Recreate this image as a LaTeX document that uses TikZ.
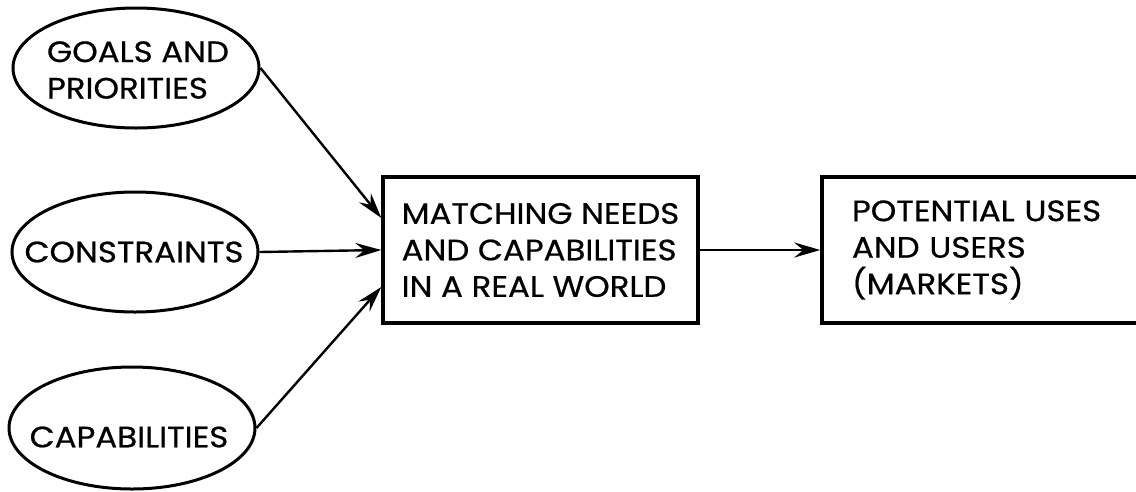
\documentclass[tikz,border=0pt]{standalone}
\usepackage{fontspec}
\setmainfont{Poppins}[FakeStretch=1.1, FakeBold=0.6]
\usepackage{tikz}
\usetikzlibrary{shapes.geometric,arrows.meta}

\tikzset{
  oval/.style={draw, ellipse, line width=3pt, minimum width=246pt, minimum height=120pt, inner sep=0pt},
  label/.style={draw=none, align=left, inner sep=0pt},
  block/.style={draw, rectangle, line width=3.4pt, minimum width=315pt, minimum height=146pt, align=left},
  arr/.style={line width=2.4pt, -{Stealth[length=26pt, width=15pt, inset=9pt]}}
}

\begin{document}
\begin{tikzpicture}[x=1pt, y=-1pt, font=\fontsize{29.5}{36.5}\selectfont]
             \useasboundingbox (0,0) rectangle (1136,491);

             \node[oval] (goals) at (136, 68) {};
             \node[label] (goalstext) at (138, 70) {GOALS AND\\PRIORITIES};
             \node[oval] (constr) at (135, 252) {};
             \node[label] (constrtext) at (134, 252) {CONSTRAINTS};
             \node[oval, minimum height=122pt] (capab) at (132, 428) {};
             \node[label] (capabtext) at (129, 437) {CAPABILITIES};

             \node[block] (match) at (540.5, 250) {MATCHING NEEDS\\AND CAPABILITIES\\IN A REAL WORLD};
             \node[block, minimum width=330pt, text width=270pt] (markets) at (987, 250) {POTENTIAL USES\\AND USERS\\(MARKETS)};

             \draw[arr] (goals.east) -- ([yshift=32pt]match.west);
             \draw[arr] (constr.east) -- (match.west);
             \draw[arr] (capab.east) -- ([yshift=-37pt]match.west);
             \draw[arr] (match.east) -- (markets.west);
             \end{tikzpicture}
\end{document}
